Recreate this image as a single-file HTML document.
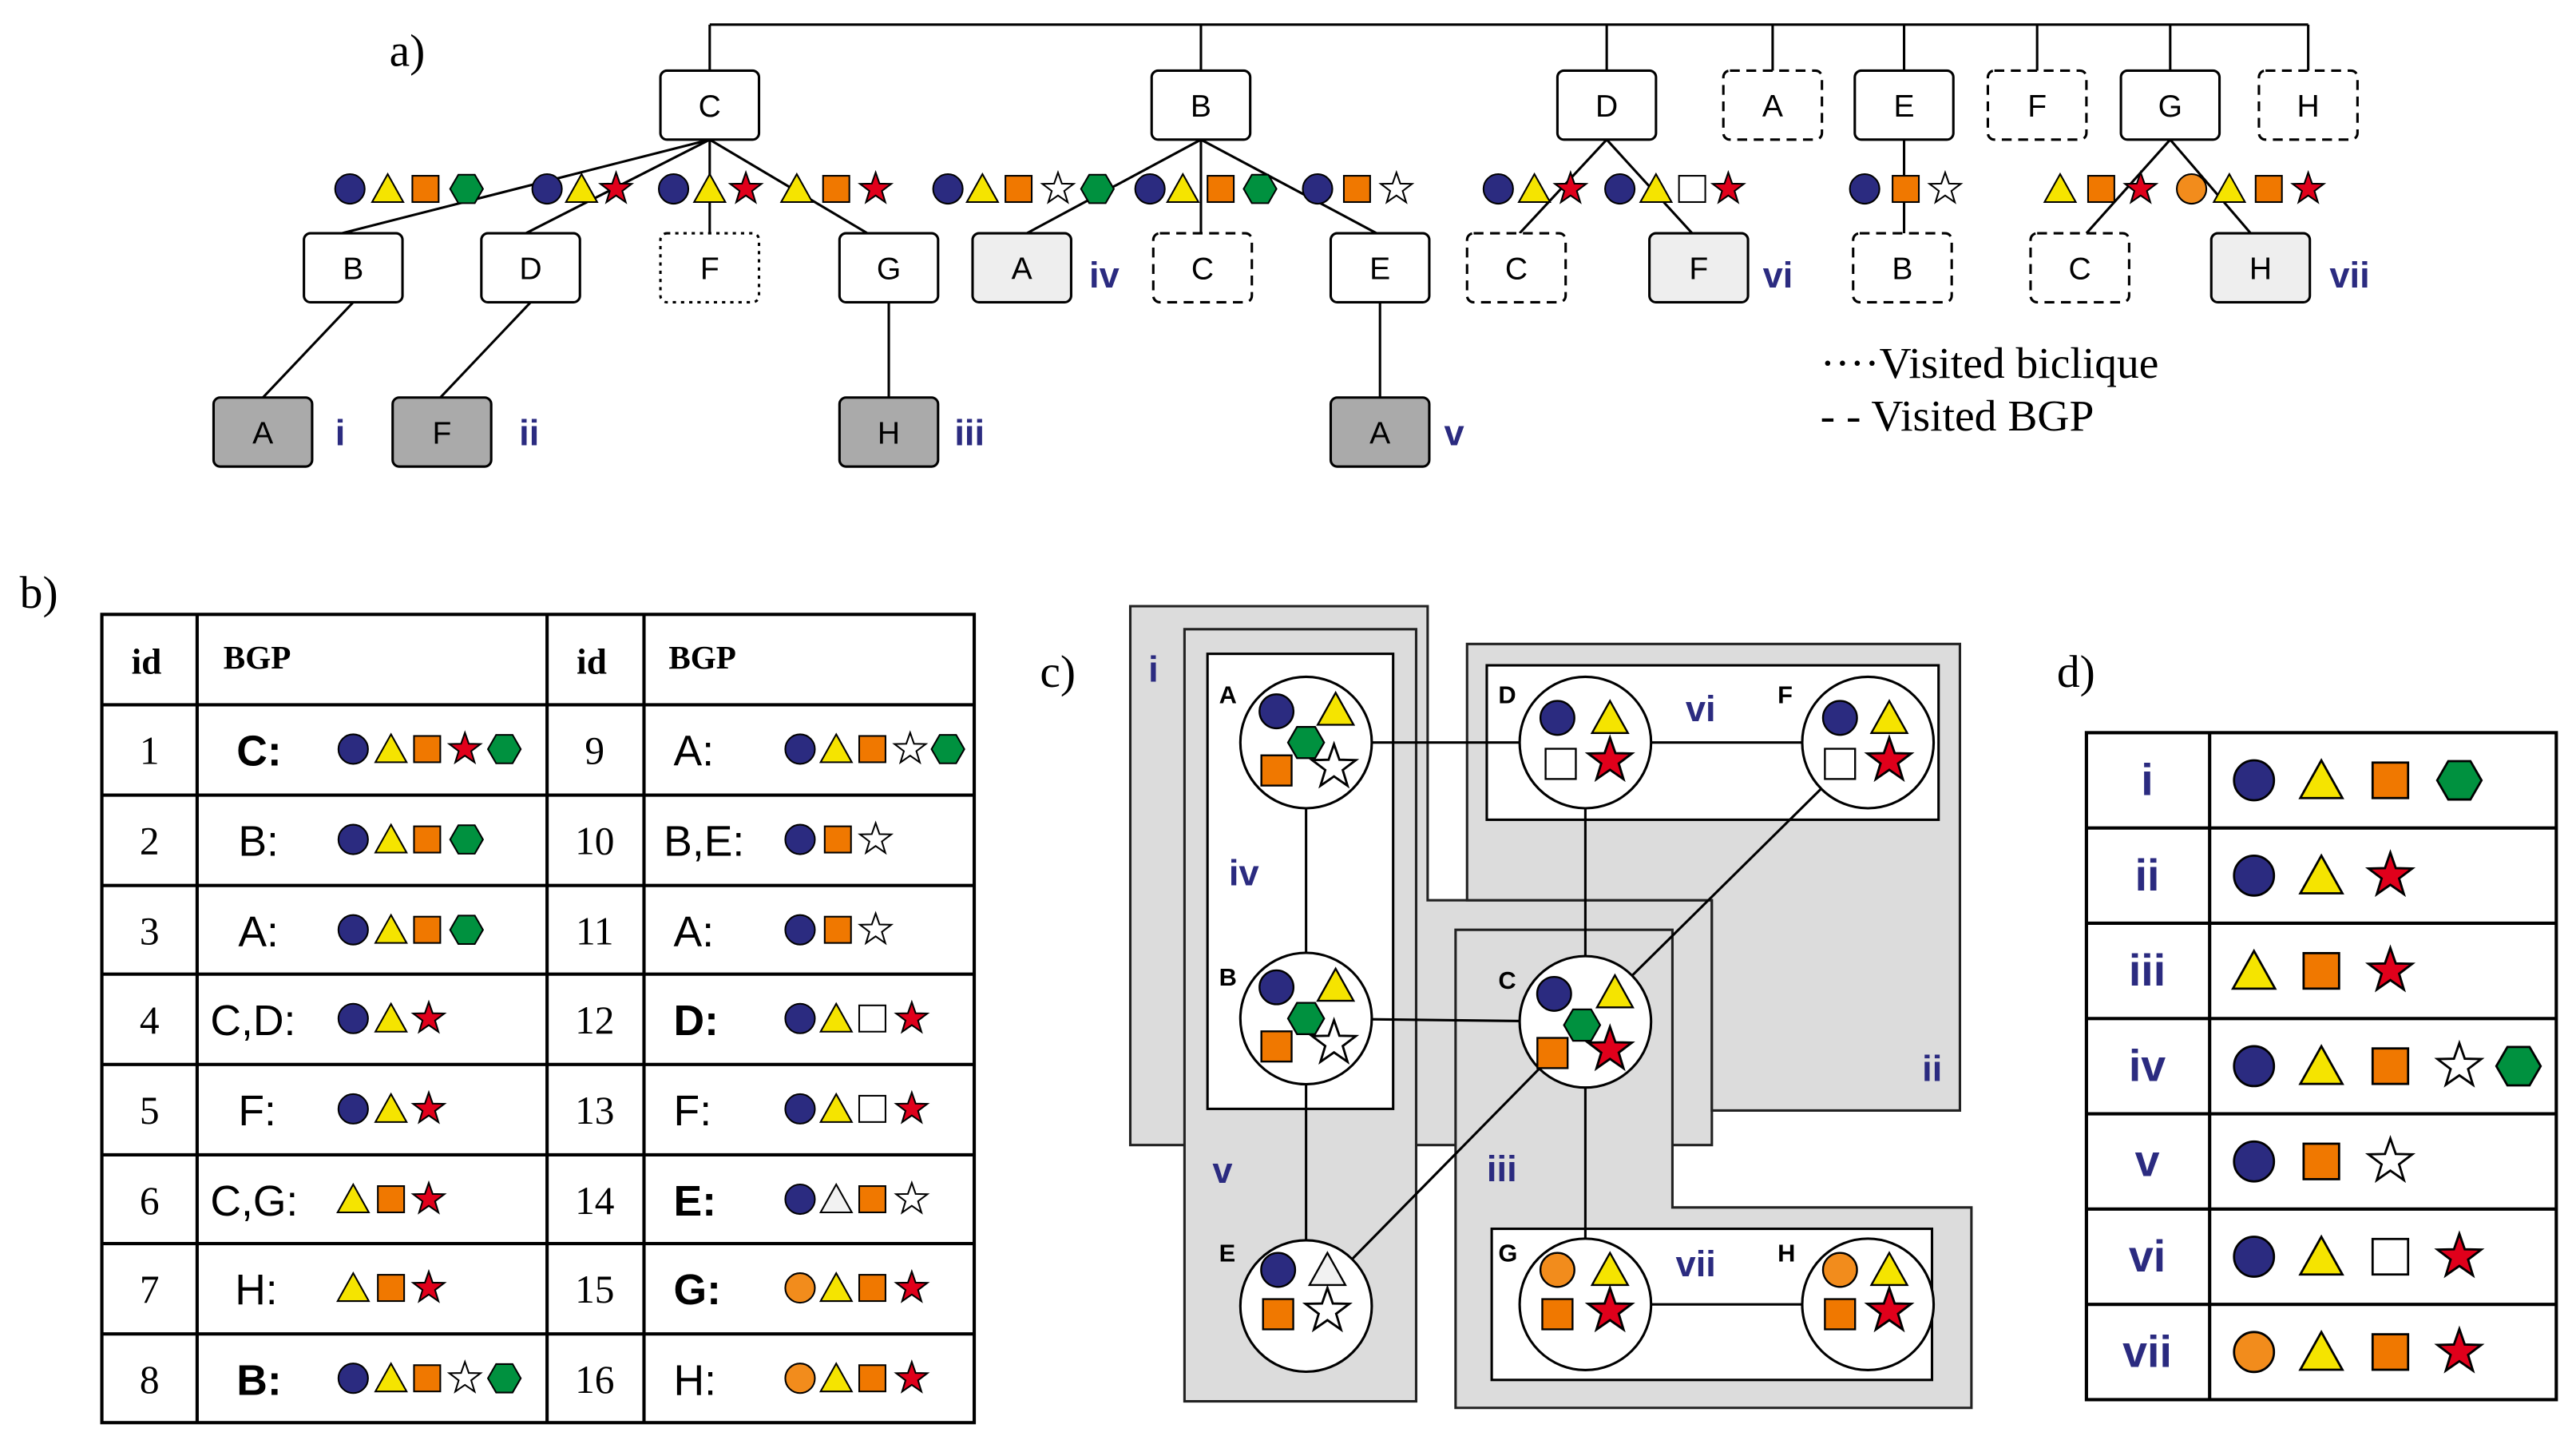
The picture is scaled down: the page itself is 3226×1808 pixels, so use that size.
<!DOCTYPE html>
<html><head><meta charset="utf-8"><style>
html,body{margin:0;padding:0;background:#fff}
svg{display:block}
.sr{font-family:"Liberation Serif",serif}
.ss{font-family:"Liberation Sans",sans-serif}
.nv{fill:#2b2b80;font-family:"Liberation Sans",sans-serif;font-weight:bold}
</style></head><body>
<svg width="3226" height="1808" viewBox="0 0 1568 879" preserveAspectRatio="none" xmlns="http://www.w3.org/2000/svg">
<defs>
<g id="c"><circle r="9" fill="#2b2b80" stroke="#000" stroke-width="1"/></g>
<g id="oc"><circle r="9" fill="#f28c1c" stroke="#000" stroke-width="1"/></g>
<g id="t"><polygon points="0,-9 9.5,8 -9.5,8" fill="#f5e400" stroke="#000" stroke-width="1"/></g>
<g id="wt"><polygon points="0,-9 9.5,8 -9.5,8" fill="#f2f2f2" stroke="#000" stroke-width="1"/></g>
<g id="q"><rect x="-8" y="-8" width="16" height="16" fill="#f07800" stroke="#000" stroke-width="1"/></g>
<g id="wq"><rect x="-8" y="-8" width="16" height="16" fill="#fff" stroke="#000" stroke-width="1"/></g>
<g id="s"><polygon points="0,-10 2.35,-3.24 9.51,-3.09 3.8,1.24 5.88,8.09 0,4 -5.88,8.09 -3.8,1.24 -9.51,-3.09 -2.35,-3.24" fill="#e0001b" stroke="#000" stroke-width="1"/></g>
<g id="ws"><polygon points="0,-10 2.35,-3.24 9.51,-3.09 3.8,1.24 5.88,8.09 0,4 -5.88,8.09 -3.8,1.24 -9.51,-3.09 -2.35,-3.24" fill="#fff" stroke="#000" stroke-width="1"/></g>
<g id="h"><polygon points="10,0 5,8.66 -5,8.66 -10,0 -5,-8.66 5,-8.66" fill="#00913f" stroke="#000" stroke-width="1"/></g>
</defs>

<!-- a) -->
<text x="237" y="40" class="sr" font-size="28">a)</text>
<g stroke="#000" stroke-width="1.5" fill="none">
<line x1="432" y1="15" x2="1405" y2="15"/>
<line x1="432" y1="15" x2="432" y2="43"/><line x1="731" y1="15" x2="731" y2="43"/>
<line x1="978" y1="15" x2="978" y2="43"/><line x1="1079" y1="15" x2="1079" y2="43"/>
<line x1="1159" y1="15" x2="1159" y2="43"/><line x1="1240" y1="15" x2="1240" y2="43"/>
<line x1="1321" y1="15" x2="1321" y2="43"/><line x1="1405" y1="15" x2="1405" y2="43"/>
<line x1="432" y1="85" x2="208" y2="142"/><line x1="432" y1="85" x2="320" y2="142"/>
<line x1="432" y1="85" x2="432" y2="142"/><line x1="432" y1="85" x2="528" y2="142"/>
<line x1="731" y1="85" x2="625" y2="142"/><line x1="731" y1="85" x2="731" y2="142"/><line x1="731" y1="85" x2="838" y2="142"/>
<line x1="978" y1="85" x2="925" y2="142"/><line x1="978" y1="85" x2="1030" y2="142"/>
<line x1="1159" y1="85" x2="1159" y2="142"/>
<line x1="1321" y1="85" x2="1270" y2="142"/><line x1="1321" y1="85" x2="1370" y2="142"/>
<line x1="215" y1="184" x2="160" y2="242"/><line x1="323" y1="184" x2="268" y2="242"/>
<line x1="541" y1="184" x2="541" y2="242"/><line x1="840" y1="184" x2="840" y2="242"/>
</g>
<g stroke="#000" stroke-width="1.5">
<rect x="402" y="43" width="60" height="42" rx="4" fill="#fff"/>
<rect x="701" y="43" width="60" height="42" rx="4" fill="#fff"/>
<rect x="948" y="43" width="60" height="42" rx="4" fill="#fff"/>
<rect x="1049" y="43" width="60" height="42" rx="4" fill="#fff" stroke-dasharray="6,4"/>
<rect x="1129" y="43" width="60" height="42" rx="4" fill="#fff"/>
<rect x="1210" y="43" width="60" height="42" rx="4" fill="#fff" stroke-dasharray="6,4"/>
<rect x="1291" y="43" width="60" height="42" rx="4" fill="#fff"/>
<rect x="1375" y="43" width="60" height="42" rx="4" fill="#fff" stroke-dasharray="6,4"/>
<rect x="185" y="142" width="60" height="42" rx="4" fill="#fff"/>
<rect x="293" y="142" width="60" height="42" rx="4" fill="#fff"/>
<rect x="402" y="142" width="60" height="42" rx="4" fill="#fff" stroke-dasharray="2,3"/>
<rect x="511" y="142" width="60" height="42" rx="4" fill="#fff"/>
<rect x="592" y="142" width="60" height="42" rx="4" fill="#eee"/>
<rect x="702" y="142" width="60" height="42" rx="4" fill="#fff" stroke-dasharray="6,4"/>
<rect x="810" y="142" width="60" height="42" rx="4" fill="#fff"/>
<rect x="893" y="142" width="60" height="42" rx="4" fill="#fff" stroke-dasharray="6,4"/>
<rect x="1004" y="142" width="60" height="42" rx="4" fill="#eee"/>
<rect x="1128" y="142" width="60" height="42" rx="4" fill="#fff" stroke-dasharray="6,4"/>
<rect x="1236" y="142" width="60" height="42" rx="4" fill="#fff" stroke-dasharray="6,4"/>
<rect x="1346" y="142" width="60" height="42" rx="4" fill="#eee"/>
<rect x="130" y="242" width="60" height="42" rx="4" fill="#aaa"/>
<rect x="239" y="242" width="60" height="42" rx="4" fill="#aaa"/>
<rect x="511" y="242" width="60" height="42" rx="4" fill="#aaa"/>
<rect x="810" y="242" width="60" height="42" rx="4" fill="#aaa"/>
</g>
<g class="ss" font-size="19" text-anchor="middle">
<text x="432" y="71">C</text><text x="731" y="71">B</text><text x="978" y="71">D</text><text x="1079" y="71">A</text>
<text x="1159" y="71">E</text><text x="1240" y="71">F</text><text x="1321" y="71">G</text><text x="1405" y="71">H</text>
<text x="215" y="170">B</text><text x="323" y="170">D</text><text x="432" y="170">F</text><text x="541" y="170">G</text>
<text x="622" y="170">A</text><text x="732" y="170">C</text><text x="840" y="170">E</text><text x="923" y="170">C</text>
<text x="1034" y="170">F</text><text x="1158" y="170">B</text><text x="1266" y="170">C</text><text x="1376" y="170">H</text>
<text x="160" y="270">A</text><text x="269" y="270">F</text><text x="541" y="270">H</text><text x="840" y="270">A</text>
</g>
<g class="nv" font-size="22">
<text x="663" y="175">iv</text><text x="1073" y="175">vi</text><text x="1418" y="175">vii</text>
<text x="204" y="271">i</text><text x="316" y="271">ii</text><text x="581" y="271">iii</text><text x="879" y="271">v</text>
</g>
<g>
<use href="#c" x="213" y="115"/><use href="#t" x="236" y="115"/><use href="#q" x="259" y="115"/><use href="#h" x="284" y="115"/>
<use href="#c" x="333" y="115"/><use href="#t" x="354" y="115"/><use href="#s" x="375" y="115"/>
<use href="#c" x="410" y="115"/><use href="#t" x="432" y="115"/><use href="#s" x="454" y="115"/>
<use href="#t" x="485" y="115"/><use href="#q" x="509" y="115"/><use href="#s" x="533" y="115"/>
<use href="#c" x="577" y="115"/><use href="#t" x="598" y="115"/><use href="#q" x="620" y="115"/><use href="#ws" x="644" y="115"/><use href="#h" x="668" y="115"/>
<use href="#c" x="700" y="115"/><use href="#t" x="720" y="115"/><use href="#q" x="743" y="115"/><use href="#h" x="767" y="115"/>
<use href="#c" x="802" y="115"/><use href="#q" x="826" y="115"/><use href="#ws" x="850" y="115"/>
<use href="#c" x="912" y="115"/><use href="#t" x="934" y="115"/><use href="#s" x="956" y="115"/>
<use href="#c" x="986" y="115"/><use href="#t" x="1008" y="115"/><use href="#wq" x="1030" y="115"/><use href="#s" x="1052" y="115"/>
<use href="#c" x="1135" y="115"/><use href="#q" x="1160" y="115"/><use href="#ws" x="1184" y="115"/>
<use href="#t" x="1254" y="115"/><use href="#q" x="1279" y="115"/><use href="#s" x="1303" y="115"/>
<use href="#oc" x="1334" y="115"/><use href="#t" x="1357" y="115"/><use href="#q" x="1381" y="115"/><use href="#s" x="1405" y="115"/>
</g>
<text x="1108" y="230" class="sr" font-size="27">····Visited biclique</text>
<text x="1108" y="262" class="sr" font-size="27">- - Visited BGP</text>

<!-- b) -->
<text x="12" y="370" class="sr" font-size="28">b)</text>
<g stroke="#000" stroke-width="2" fill="none">
<rect x="62" y="374" width="531" height="492"/>
<line x1="120" y1="374" x2="120" y2="866"/><line x1="333" y1="374" x2="333" y2="866"/><line x1="392" y1="374" x2="392" y2="866"/>
<line x1="62" y1="429" x2="593" y2="429"/><line x1="62" y1="484" x2="593" y2="484"/><line x1="62" y1="539" x2="593" y2="539"/>
<line x1="62" y1="593" x2="593" y2="593"/><line x1="62" y1="648" x2="593" y2="648"/><line x1="62" y1="703" x2="593" y2="703"/>
<line x1="62" y1="757" x2="593" y2="757"/><line x1="62" y1="812" x2="593" y2="812"/>
</g>
<g class="sr" font-size="22" font-weight="bold">
<text x="80" y="410">id</text><text x="136" y="407" font-size="20">BGP</text>
<text x="351" y="410">id</text><text x="407" y="407" font-size="20">BGP</text>
</g>
<g class="sr" font-size="24" text-anchor="middle">
<text x="91" y="465">1</text><text x="91" y="520">2</text><text x="91" y="575">3</text><text x="91" y="629">4</text>
<text x="91" y="684">5</text><text x="91" y="739">6</text><text x="91" y="793">7</text><text x="91" y="848">8</text>
<text x="362" y="465">9</text><text x="362" y="520">10</text><text x="362" y="575">11</text><text x="362" y="629">12</text>
<text x="362" y="684">13</text><text x="362" y="739">14</text><text x="362" y="793">15</text><text x="362" y="848">16</text>
</g>
<g class="ss" font-size="26">
<text x="144" y="466" font-weight="bold">C:</text><text x="145" y="521">B:</text><text x="145" y="576">A:</text>
<text x="128" y="630">C,D:</text><text x="145" y="685">F:</text><text x="128" y="740">C,G:</text><text x="143" y="794">H:</text>
<text x="144" y="849" font-weight="bold">B:</text>
<text x="410" y="466">A:</text><text x="404" y="521">B,E:</text><text x="410" y="576">A:</text>
<text x="410" y="630" font-weight="bold">D:</text><text x="410" y="685">F:</text><text x="410" y="740" font-weight="bold">E:</text>
<text x="410" y="794" font-weight="bold">G:</text><text x="410" y="849">H:</text>
</g>
<g>
<use href="#c" x="215" y="456"/><use href="#t" x="238" y="456"/><use href="#q" x="260" y="456"/><use href="#s" x="283" y="456"/><use href="#h" x="307" y="456"/>
<use href="#c" x="215" y="511"/><use href="#t" x="238" y="511"/><use href="#q" x="260" y="511"/><use href="#h" x="284" y="511"/>
<use href="#c" x="215" y="566"/><use href="#t" x="238" y="566"/><use href="#q" x="260" y="566"/><use href="#h" x="284" y="566"/>
<use href="#c" x="215" y="620"/><use href="#t" x="238" y="620"/><use href="#s" x="261" y="620"/>
<use href="#c" x="215" y="675"/><use href="#t" x="238" y="675"/><use href="#s" x="261" y="675"/>
<use href="#t" x="215" y="730"/><use href="#q" x="238" y="730"/><use href="#s" x="261" y="730"/>
<use href="#t" x="215" y="784"/><use href="#q" x="238" y="784"/><use href="#s" x="261" y="784"/>
<use href="#c" x="215" y="839"/><use href="#t" x="238" y="839"/><use href="#q" x="260" y="839"/><use href="#ws" x="283" y="839"/><use href="#h" x="307" y="839"/>
<use href="#c" x="487" y="456"/><use href="#t" x="509" y="456"/><use href="#q" x="531" y="456"/><use href="#ws" x="554" y="456"/><use href="#h" x="577" y="456"/>
<use href="#c" x="487" y="511"/><use href="#q" x="510" y="511"/><use href="#ws" x="533" y="511"/>
<use href="#c" x="487" y="566"/><use href="#q" x="510" y="566"/><use href="#ws" x="533" y="566"/>
<use href="#c" x="487" y="620"/><use href="#t" x="509" y="620"/><use href="#wq" x="531" y="620"/><use href="#s" x="555" y="620"/>
<use href="#c" x="487" y="675"/><use href="#t" x="509" y="675"/><use href="#wq" x="531" y="675"/><use href="#s" x="555" y="675"/>
<use href="#c" x="487" y="730"/><use href="#wt" x="509" y="730"/><use href="#q" x="531" y="730"/><use href="#ws" x="555" y="730"/>
<use href="#oc" x="487" y="784"/><use href="#t" x="509" y="784"/><use href="#q" x="531" y="784"/><use href="#s" x="555" y="784"/>
<use href="#oc" x="487" y="839"/><use href="#t" x="509" y="839"/><use href="#q" x="531" y="839"/><use href="#s" x="555" y="839"/>
</g>

<!-- c) -->
<text x="633" y="418" class="sr" font-size="28">c)</text>
<g stroke="#222" stroke-width="1.5" fill="#dcdcdc">
<polygon points="688,369 869,369 869,548 1042,548 1042,697 688,697"/>
<polygon points="893,392 1193,392 1193,676 1042,676 1042,548 893,548"/>
<polygon points="721,383 862,383 862,853 721,853"/>
<polygon points="886,566 1018,566 1018,735 1200,735 1200,857 886,857"/>
</g>
<g stroke="#000" stroke-width="1.5" fill="#fff">
<rect x="735" y="398" width="113" height="277"/>
<rect x="905" y="405" width="275" height="94"/>
<rect x="908" y="748" width="268" height="92"/>
</g>
<g stroke="#000" stroke-width="1.5">
<line x1="795" y1="452" x2="965" y2="452"/><line x1="795" y1="452" x2="795" y2="795"/>
<line x1="795" y1="620" x2="965" y2="622"/><line x1="965" y1="452" x2="1137" y2="452"/>
<line x1="965" y1="452" x2="965" y2="794"/><line x1="965" y1="794" x2="1137" y2="794"/>
<line x1="965" y1="622" x2="1137" y2="452"/><line x1="965" y1="622" x2="795" y2="795"/>
</g>
<g stroke="#000" stroke-width="1.5" fill="#fff">
<circle cx="795" cy="452" r="40"/><circle cx="795" cy="620" r="40"/><circle cx="795" cy="795" r="40"/>
<circle cx="965" cy="452" r="40"/><circle cx="1137" cy="452" r="40"/><circle cx="965" cy="622" r="40"/>
<circle cx="965" cy="794" r="40"/><circle cx="1137" cy="794" r="40"/>
</g>
<g class="ss" font-size="15" font-weight="bold">
<text x="742" y="428">A</text><text x="742" y="600">B</text><text x="742" y="768">E</text>
<text x="912" y="428">D</text><text x="1082" y="428">F</text><text x="912" y="602">C</text>
<text x="912" y="768">G</text><text x="1082" y="768">H</text>
</g>
<g>
<use href="#c" transform="translate(777,433) scale(1.15)"/><use href="#t" transform="translate(813,432) scale(1.15)"/><use href="#h" transform="translate(795,452) scale(1.1)"/><use href="#q" transform="translate(777,469) scale(1.15)"/><use href="#ws" transform="translate(812,467) scale(1.4)"/>
<use href="#c" transform="translate(777,601) scale(1.15)"/><use href="#t" transform="translate(813,600) scale(1.15)"/><use href="#h" transform="translate(795,620) scale(1.1)"/><use href="#q" transform="translate(777,637) scale(1.15)"/><use href="#ws" transform="translate(812,635) scale(1.4)"/>
<use href="#c" transform="translate(778,773) scale(1.15)"/><use href="#wt" transform="translate(808,773) scale(1.15)"/><use href="#q" transform="translate(778,800) scale(1.15)"/><use href="#ws" transform="translate(808,798) scale(1.4)"/>
<use href="#c" transform="translate(948,437) scale(1.15)"/><use href="#t" transform="translate(980,437) scale(1.15)"/><use href="#wq" transform="translate(950,465) scale(1.15)"/><use href="#s" transform="translate(980,463) scale(1.4)"/>
<use href="#c" transform="translate(1120,437) scale(1.15)"/><use href="#t" transform="translate(1150,437) scale(1.15)"/><use href="#wq" transform="translate(1120,465) scale(1.15)"/><use href="#s" transform="translate(1150,463) scale(1.4)"/>
<use href="#c" transform="translate(946,605) scale(1.15)"/><use href="#t" transform="translate(983,604) scale(1.15)"/><use href="#h" transform="translate(963,624) scale(1.1)"/><use href="#q" transform="translate(945,641) scale(1.15)"/><use href="#s" transform="translate(980,639) scale(1.4)"/>
<use href="#oc" transform="translate(948,773) scale(1.15)"/><use href="#t" transform="translate(980,773) scale(1.15)"/><use href="#q" transform="translate(948,800) scale(1.15)"/><use href="#s" transform="translate(980,798) scale(1.4)"/>
<use href="#oc" transform="translate(1120,773) scale(1.15)"/><use href="#t" transform="translate(1150,773) scale(1.15)"/><use href="#q" transform="translate(1120,800) scale(1.15)"/><use href="#s" transform="translate(1150,798) scale(1.4)"/>
</g>
<g class="nv" font-size="22">
<text x="699" y="415">i</text><text x="748" y="539">iv</text><text x="738" y="720">v</text>
<text x="1026" y="439">vi</text><text x="1170" y="658">ii</text><text x="905" y="719">iii</text><text x="1020" y="777">vii</text>
</g>

<!-- d) -->
<text x="1252" y="418" class="sr" font-size="28">d)</text>
<g stroke="#000" stroke-width="2" fill="none">
<rect x="1270" y="446" width="286" height="406"/>
<line x1="1345" y1="446" x2="1345" y2="852"/>
<line x1="1270" y1="504" x2="1556" y2="504"/><line x1="1270" y1="562" x2="1556" y2="562"/>
<line x1="1270" y1="620" x2="1556" y2="620"/><line x1="1270" y1="678" x2="1556" y2="678"/>
<line x1="1270" y1="736" x2="1556" y2="736"/><line x1="1270" y1="794" x2="1556" y2="794"/>
</g>
<g class="nv" font-size="27" text-anchor="middle">
<text x="1307" y="484">i</text><text x="1307" y="542">ii</text><text x="1307" y="600">iii</text><text x="1307" y="658">iv</text>
<text x="1307" y="716">v</text><text x="1307" y="774">vi</text><text x="1307" y="832">vii</text>
</g>
<g>
<use href="#c" transform="translate(1372,475) scale(1.35)"/><use href="#t" transform="translate(1413,475) scale(1.35)"/><use href="#q" transform="translate(1455,475) scale(1.35)"/><use href="#h" transform="translate(1497,475) scale(1.35)"/>
<use href="#c" transform="translate(1372,533) scale(1.35)"/><use href="#t" transform="translate(1413,533) scale(1.35)"/><use href="#s" transform="translate(1455,533) scale(1.4)"/>
<use href="#t" transform="translate(1372,591) scale(1.35)"/><use href="#q" transform="translate(1413,591) scale(1.35)"/><use href="#s" transform="translate(1455,591) scale(1.4)"/>
<use href="#c" transform="translate(1372,649) scale(1.35)"/><use href="#t" transform="translate(1413,649) scale(1.35)"/><use href="#q" transform="translate(1455,649) scale(1.35)"/><use href="#ws" transform="translate(1497,649) scale(1.4)"/><use href="#h" transform="translate(1533,649) scale(1.35)"/>
<use href="#c" transform="translate(1372,707) scale(1.35)"/><use href="#q" transform="translate(1413,707) scale(1.35)"/><use href="#ws" transform="translate(1455,707) scale(1.4)"/>
<use href="#c" transform="translate(1372,765) scale(1.35)"/><use href="#t" transform="translate(1413,765) scale(1.35)"/><use href="#wq" transform="translate(1455,765) scale(1.35)"/><use href="#s" transform="translate(1497,765) scale(1.4)"/>
<use href="#oc" transform="translate(1372,823) scale(1.35)"/><use href="#t" transform="translate(1413,823) scale(1.35)"/><use href="#q" transform="translate(1455,823) scale(1.35)"/><use href="#s" transform="translate(1497,823) scale(1.4)"/>
</g>
</svg>
</body></html>
